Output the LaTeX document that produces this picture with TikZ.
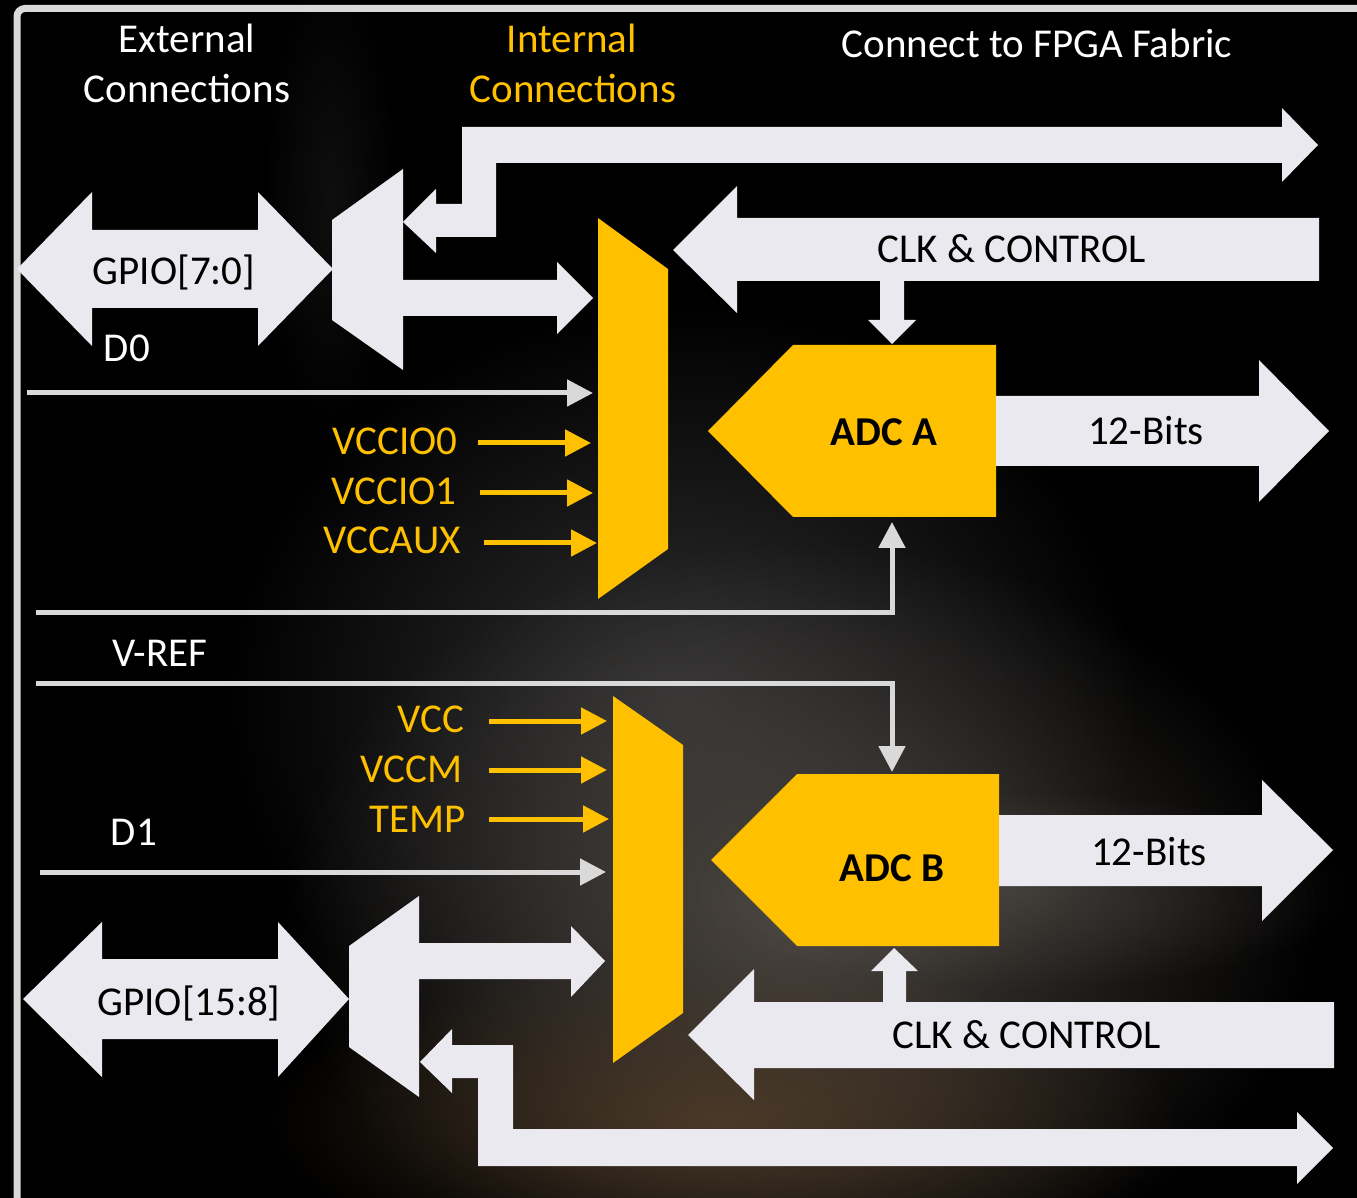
\documentclass[tikz,border=0pt]{standalone}
\usepackage{fontspec}
\setmainfont{Carlito}
\usetikzlibrary{arrows.meta, fadings}

\definecolor{bus}{RGB}{233,233,239}
\definecolor{wire}{RGB}{217,217,217}
\definecolor{amber}{RGB}{255,192,0}
\definecolor{hazeA}{RGB}{80,74,68}
\definecolor{hazeB}{RGB}{110,104,98}
\definecolor{hazeC}{RGB}{88,66,44}
\definecolor{hazeD}{RGB}{60,60,62}

\tikzfading[name=softglow, inner color=transparent!0, outer color=transparent!100]

\begin{document}
\begin{tikzpicture}[x=0.5pt, y=-0.5pt,
  busfill/.style={fill=bus},
  muxfill/.style={fill=amber},
  wireline/.style={draw=wire, line width=2.5pt, -{Triangle[length=13pt,width=13pt]}},
  supply/.style={draw=amber, line width=2.5pt, -{Triangle[length=13pt,width=13pt]}},
  txt/.style={font=\fontsize{20.5}{24}\selectfont, inner sep=0pt},
  head/.style={txt, text=white, anchor=base},
  onbus/.style={txt, text=black, anchor=base},
  adclbl/.style={txt, text=black, anchor=base, font=\fontsize{20.5}{24}\selectfont\bfseries},
  supplylbl/.style={txt, text=amber, anchor=base east},
  wirelbl/.style={txt, text=white, anchor=base},
]
\useasboundingbox (0,0) rectangle (1357,1198);
\clip (0,0) rectangle (1357,1198);

% dark backdrop with a soft haze in the lower half
\fill[black] (0,0) rectangle (1357,1198);
\fill[hazeD, path fading=softglow, fill opacity=0.8] (680,700) ellipse (230pt and 200pt);
\fill[hazeA, path fading=softglow, fill opacity=0.9] (800,920) ellipse (260pt and 190pt);
\fill[hazeB, path fading=softglow, fill opacity=0.35] (1020,890) ellipse (170pt and 50pt);
\fill[hazeC, path fading=softglow, fill opacity=0.75] (720,1120) ellipse (230pt and 80pt);
\fill[hazeD, path fading=softglow, fill opacity=0.25] (330,200) ellipse (35pt and 120pt);

% frame
\draw[wire, line width=3.5pt, rounded corners=4pt] (17,1230) -- (17,8.5) -- (1380,8.5);

% headings
\node[head] (extA) at (187,53) {External};
\node[head] (extB) at (187,103) {Connections};
\node[head, text=amber] (intA) at (572,53) {Internal};
\node[head, text=amber] (intB) at (573,103) {Connections};
\node[head] (fabric) at (1037,58) {Connect to FPGA Fabric};

% ---------------- channel A ----------------
% GPIO[7:0] bidirectional bus
\fill[busfill] (17,269) -- (92,192) -- (92,230) -- (258,230) -- (258,192) -- (333,269)
  -- (258,346) -- (258,308) -- (92,308) -- (92,346) -- cycle;
\node[onbus] (gpioA) at (174,285) {GPIO[7:0]};
% I/O mux
\fill[busfill] (332,220) -- (403,169) -- (403,370) -- (332,320) -- cycle;
% fabric bus into the I/O mux
\fill[busfill] (403,222) -- (436,189) -- (436,204) -- (462,204) -- (462,127) -- (1282,127)
  -- (1282,108) -- (1318,145) -- (1282,182) -- (1282,163) -- (496,163) -- (496,237)
  -- (436,237) -- (436,253) -- cycle;
% I/O mux to analog mux
\fill[busfill] (403,280) -- (557,280) -- (557,262) -- (593,298) -- (557,334) -- (557,316)
  -- (403,316) -- cycle;
% analog mux A
\fill[muxfill] (598,218) -- (668,269) -- (668,549) -- (598,599) -- cycle;
% clock and control A
\fill[busfill] (673,250) -- (737,186) -- (737,218) -- (1319,218) -- (1319,281) -- (904,281)
  -- (904,320) -- (916,320) -- (892,344) -- (868,320) -- (880,320) -- (880,281)
  -- (737,281) -- (737,313) -- cycle;
\node[onbus] (clkA) at (1012,263) {CLK \& CONTROL};
% ADC A
\fill[muxfill] (708,431) -- (793,345) -- (996,345) -- (996,517) -- (793,517) -- cycle;
\node[adclbl] (adcA) at (884,446) {ADC A};
\fill[busfill] (996,396) -- (1259,396) -- (1259,360) -- (1329,431) -- (1259,502) -- (1259,466)
  -- (996,466) -- cycle;
\node[onbus] (bitsA) at (1146,445) {12-Bits};

% D0 input
\coordinate (d0in) at (27,393);
\coordinate (muxAd0) at (593,393);
\draw[wireline] (d0in) -- (muxAd0);
\node[wirelbl] (d0) at (127,362) {D0};

% supply monitors into mux A
\node[supplylbl] (vccio0) at (458,455) {VCCIO0};
\node[supplylbl] (vccio1) at (457,505) {VCCIO1};
\node[supplylbl] (vccaux) at (461,554) {VCCAUX};
\coordinate (s0a) at (478,443); \coordinate (s0b) at (591,443);
\coordinate (s1a) at (480,493); \coordinate (s1b) at (593,493);
\coordinate (s2a) at (484,543); \coordinate (s2b) at (597,543);
\draw[supply] (s0a) -- (s0b);
\draw[supply] (s1a) -- (s1b);
\draw[supply] (s2a) -- (s2b);

% reference lines
\coordinate (refAin) at (36,613);
\coordinate (adcAbot) at (892,522);
\draw[wireline] (refAin) -| (adcAbot);
\node[wirelbl] (vref) at (160,667) {V-REF};
\coordinate (refBin) at (36,684);
\coordinate (adcBtop) at (892,772);
\draw[wireline] (refBin) -| (adcBtop);

% ---------------- channel B ----------------
% supply monitors into mux B
\node[supplylbl] (vcc) at (465,733) {VCC};
\node[supplylbl] (vccm) at (463,783) {VCCM};
\node[supplylbl] (temp) at (466,832) {TEMP};
\coordinate (s3a) at (489,721); \coordinate (s3b) at (607,721);
\coordinate (s4a) at (489,770); \coordinate (s4b) at (607,770);
\coordinate (s5a) at (489,819); \coordinate (s5b) at (609,819);
\draw[supply] (s3a) -- (s3b);
\draw[supply] (s4a) -- (s4b);
\draw[supply] (s5a) -- (s5b);

% D1 input
\coordinate (d1in) at (40,872);
\coordinate (muxBd1) at (606,872);
\draw[wireline] (d1in) -- (muxBd1);
\node[wirelbl] (d1) at (134,845) {D1};

% analog mux B
\fill[muxfill] (613,696) -- (683,745) -- (683,1013) -- (613,1063) -- cycle;
% ADC B
\fill[muxfill] (711,860) -- (797,774) -- (999,774) -- (999,946) -- (797,946) -- cycle;
\node[adclbl] (adcB) at (892,881) {ADC B};
\fill[busfill] (999,815) -- (1262,815) -- (1262,780) -- (1333,850) -- (1262,921) -- (1262,886)
  -- (999,886) -- cycle;
\node[onbus] (bitsB) at (1149,865) {12-Bits};
% clock and control B
\fill[busfill] (688,1035) -- (754,969) -- (754,1002) -- (883,1002) -- (883,971) -- (871,971)
  -- (894,948) -- (918,971) -- (906,971) -- (906,1002) -- (1334,1002) -- (1334,1068)
  -- (754,1068) -- (754,1100) -- cycle;
\node[onbus] (clkB) at (1027,1048) {CLK \& CONTROL};

% GPIO[15:8] bidirectional bus
\fill[busfill] (23,999) -- (102,922) -- (102,959) -- (278,959) -- (278,922) -- (349,999)
  -- (278,1077) -- (278,1039) -- (102,1039) -- (102,1077) -- cycle;
\node[onbus] (gpioB) at (189,1015) {GPIO[15:8]};
% I/O mux B
\fill[busfill] (349,946) -- (419,896) -- (419,1097) -- (349,1047) -- cycle;
% I/O mux B to analog mux
\fill[busfill] (419,943) -- (571,943) -- (571,926) -- (605,961) -- (571,997) -- (571,979)
  -- (419,979) -- cycle;
% fabric bus into I/O mux B
\fill[busfill] (420,1062) -- (452,1029) -- (452,1045) -- (513,1045) -- (513,1129) -- (1297,1129)
  -- (1297,1112) -- (1333,1148) -- (1297,1184) -- (1297,1166) -- (478,1166) -- (478,1078)
  -- (452,1078) -- (452,1093) -- cycle;
\end{tikzpicture}
\end{document}
